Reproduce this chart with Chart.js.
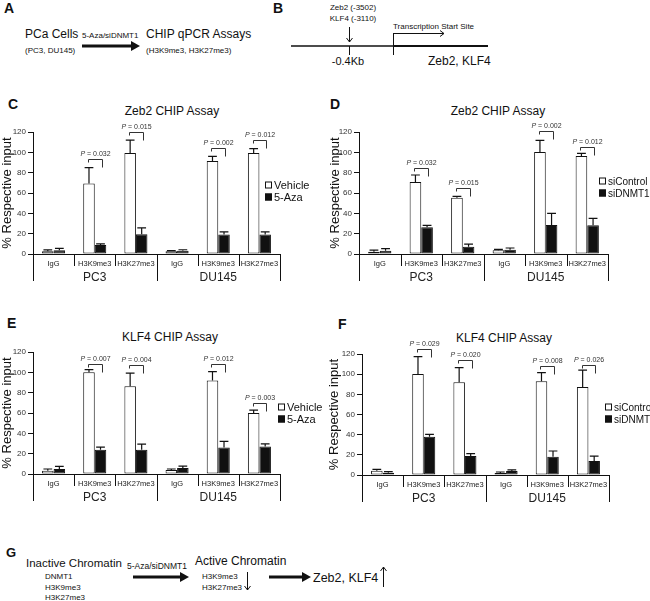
<!DOCTYPE html>
<html>
<head>
<meta charset="utf-8">
<script src="https://cdn.jsdelivr.net/npm/chart.js"></script>
<style>
body{margin:0;background:#fff;width:650px;height:601px;overflow:hidden;position:relative;font-family:"Liberation Sans",Arial,sans-serif}
canvas{position:absolute}
svg{position:absolute;left:0;top:0}
svg text{fill:#111}
</style>
</head>
<body>
<svg width="650" height="601" font-family="Liberation Sans, Arial, sans-serif" fill="#111" stroke="none">
  <!-- A -->
  <text x="4" y="13" font-size="14" font-weight="bold">A</text>
  <text x="25" y="38" font-size="12">PCa Cells</text>
  <text x="25" y="53" font-size="8">(PC3, DU145)</text>
  <text x="82" y="38" font-size="8">5-Aza/siDNMT1</text>
  <line x1="82" y1="46" x2="131" y2="46" stroke="#111" stroke-width="3"/>
  <polygon points="131,41 140,46 131,51"/>
  <text x="146" y="38" font-size="12">CHIP qPCR Assays</text>
  <text x="146" y="53" font-size="8">(H3K9me3, H3K27me3)</text>
  <!-- B -->
  <text x="273" y="13" font-size="14" font-weight="bold">B</text>
  <text x="353" y="10" font-size="8" text-anchor="middle">Zeb2 (-3502)</text>
  <text x="353" y="21" font-size="8" text-anchor="middle">KLF4 (-3110)</text>
  <g stroke="#111" fill="none">
    <line x1="349.5" y1="27" x2="349.5" y2="42"/>
    <polyline points="346.5,38 349.5,42 352.5,38"/>
    <line x1="291" y1="46" x2="393" y2="46" stroke-width="1.4"/>
    <line x1="393" y1="46" x2="488" y2="46" stroke-width="2.2"/>
    <line x1="349.5" y1="46" x2="349.5" y2="55"/>
    <line x1="393.5" y1="33" x2="393.5" y2="55"/>
    <line x1="393" y1="33.5" x2="444" y2="33.5"/>
    <polyline points="440,30.5 444,33.5 440,36.5"/>
  </g>
  <text x="393" y="29" font-size="8">Transcription Start Site</text>
  <text x="348" y="65" font-size="11" text-anchor="middle">-0.4Kb</text>
  <text x="428" y="65" font-size="12">Zeb2, KLF4</text>
  <!-- panel letters and titles -->
  <text x="8" y="109" font-size="14" font-weight="bold">C</text>
  <text x="330" y="109" font-size="14" font-weight="bold">D</text>
  <text x="7" y="328" font-size="14" font-weight="bold">E</text>
  <text x="338" y="329" font-size="14" font-weight="bold">F</text>
  <text x="172" y="115" font-size="12" text-anchor="middle">Zeb2 CHIP Assay</text>
  <text x="498" y="115" font-size="12" text-anchor="middle">Zeb2 CHIP Assay</text>
  <text x="170" y="341" font-size="12" text-anchor="middle">KLF4 CHIP Assay</text>
  <text x="504" y="342" font-size="12" text-anchor="middle">KLF4 CHIP Assay</text>
  <!-- G -->
  <text x="6" y="557" font-size="13" font-weight="bold">G</text>
  <text x="26" y="567" font-size="11.5">Inactive Chromatin</text>
  <text x="45" y="579" font-size="8">DNMT1</text>
  <text x="45" y="590" font-size="8">H3K9me3</text>
  <text x="45" y="600" font-size="8">H3K27me3</text>
  <text x="127" y="569" font-size="8.5">5-Aza/siDNMT1</text>
  <line x1="133" y1="577" x2="180" y2="577" stroke="#111" stroke-width="3"/>
  <polygon points="180,572 189,577 180,582"/>
  <text x="195" y="565" font-size="12">Active Chromatin</text>
  <text x="202" y="579" font-size="8">H3K9me3</text>
  <text x="202" y="590" font-size="8">H3K27me3</text>
  <line x1="269" y1="577" x2="302" y2="577" stroke="#111" stroke-width="3"/>
  <polygon points="302,572 311,577 302,582"/>
  <text x="313" y="582" font-size="12.5">Zeb2, KLF4</text>
  <g stroke="#111" fill="none">
    <line x1="247.5" y1="572" x2="247.5" y2="590"/>
    <polyline points="244.5,586 247.5,590 250.5,586"/>
    <line x1="383.5" y1="587" x2="383.5" y2="567"/>
    <polyline points="380.5,571 383.5,567 386.5,571"/>
  </g>
</svg>
<canvas id="chartC" width="325" height="200" style="left:0;top:90px"></canvas>
<canvas id="chartD" width="325" height="200" style="left:325px;top:90px"></canvas>
<canvas id="chartE" width="325" height="200" style="left:0;top:310px"></canvas>
<canvas id="chartF" width="325" height="200" style="left:325px;top:310px"></canvas>
<script>
// shared categories for every ChIP panel
const categories = ["IgG", "H3K9me3", "H3K27me3", "IgG", "H3K9me3", "H3K27me3"]
const cellLines = ["PC3", "DU145"]

// C: Zeb2, vehicle vs 5-Aza
const zebVehicle = [2.6, 69.4, 99.3, 2.6, 91.5, 99.3]
const zebVehicleErr = [1.4, 15.6, 12.7, 0.7, 4.5, 4.3]
const zebAza = [3.6, 8.8, 19.5, 3.3, 19.2, 19.2]
const zebAzaErr = [1.9, 1.2, 6.2, 0.9, 2.6, 2.6]
const zebAzaP = [null, "0.032", "0.015", null, "0.002", "0.012"]
const zebAzaPLevel = [null, 93, 120, null, 104.5, 112]

// D: Zeb2, siControl vs siDNMT1
const zebSiControl = [2.3, 70.8, 55.4, 3.6, 100.3, 96.4]
const zebSiControlErr = [1.6, 6.9, 1.3, 1.0, 11.5, 2.6]
const zebSiDnmt1 = [3.3, 26.2, 7.2, 4.3, 28.5, 28.2]
const zebSiDnmt1Err = [1.9, 2.0, 2.6, 1.6, 11.5, 6.8]
const zebSiP = [null, "0.032", "0.015", null, "0.002", "0.012"]
const zebSiPLevel = [null, 85, 65, null, 121, 105.6]

// E: KLF4, vehicle vs 5-Aza
const klfVehicle = [3.3, 100, 86.3, 3.9, 91.9, 60]
const klfVehicleErr = [1.6, 2.6, 13, 1.0, 8.7, 2.9]
const klfAza = [4.9, 23.8, 23.8, 5.9, 26, 27]
const klfAzaErr = [2.6, 2.6, 5.5, 1.9, 6, 2.6]
const klfAzaP = [null, "0.007", "0.004", null, "0.012", "0.003"]
const klfAzaPLevel = [null, 108.5, 107.5, null, 108.5, 69.4]

// F: KLF4, siControl vs siDNMT1
const klfSiControl = [4.3, 100.2, 91.9, 2, 92.9, 87.3]
const klfSiControlErr = [1.3, 17.2, 14.5, 1, 8.6, 16.7]
const klfSiDnmt1 = [2.3, 38, 18.8, 4, 18.2, 13.9]
const klfSiDnmt1Err = [1, 2.3, 2.4, 1, 5.6, 4.9]
const klfSiP = [null, "0.029", "0.020", null, "0.008", "0.026"]
const klfSiPLevel = [null, 124.6, 114, null, 108, 109]

const FONT = '"Liberation Sans", Arial, sans-serif'
Chart.defaults.font.family = FONT
Chart.defaults.color = "#222"

//draws error bars, p value brackets, the grouped x axis and the legend
function panelPlugin(spec){
    return {
        id: "panelExtras",
        afterDraw(chart){
            const ctx = chart.ctx
            const area = chart.chartArea
            const xs = chart.scales.x
            const ys = chart.scales.y
            ctx.save()
            ctx.strokeStyle = "#111"
            ctx.lineWidth = 1.2
            chart.data.datasets.forEach((ds, d) => {
                chart.getDatasetMeta(d).data.forEach((bar, i) => {
                    const top = ys.getPixelForValue(ds.data[i] + spec.errors[d][i])
                    const half = bar.width * 0.38
                    ctx.beginPath()
                    ctx.moveTo(bar.x, bar.y)
                    ctx.lineTo(bar.x, top)
                    ctx.moveTo(bar.x - half, top)
                    ctx.lineTo(bar.x + half, top)
                    ctx.stroke()
                })
            })
            // p value brackets
            ctx.lineWidth = 1
            ctx.strokeStyle = "#333"
            spec.pLabels.forEach((p, i) => {
                if(!p) return
                const xl = Math.round(chart.getDatasetMeta(0).data[i].x) - 0.5
                const xr = Math.round(chart.getDatasetMeta(1).data[i].x) + 1.5
                const yb = Math.round(ys.getPixelForValue(spec.pLevels[i])) + 0.5
                ctx.beginPath()
                ctx.moveTo(xl, yb + 3)
                ctx.lineTo(xl, yb)
                ctx.lineTo(xr, yb)
                ctx.lineTo(xr, yb + 8)
                ctx.stroke()
                const rest = " = " + p
                ctx.font = "italic 7px " + FONT
                const w1 = ctx.measureText("P").width
                ctx.font = "7px " + FONT
                const w2 = ctx.measureText(rest).width
                const tx = (xl + xr) / 2 - (w1 + w2) / 2
                ctx.fillStyle = "#333"
                ctx.textAlign = "left"
                ctx.textBaseline = "alphabetic"
                ctx.font = "italic 7px " + FONT
                ctx.fillText("P", tx, yb - 4)
                ctx.font = "7px " + FONT
                ctx.fillText(rest, tx + w1, yb - 4)
            })
            // x axis with category cells and cell line groups
            const n = categories.length
            const per = n / cellLines.length
            const w = (area.right - area.left) / n
            const b = area.bottom
            ctx.strokeStyle = "#111"
            ctx.beginPath()
            ctx.moveTo(area.left, b + 0.5)
            ctx.lineTo(area.right, b + 0.5)
            ctx.moveTo(area.left + 0.5, b)
            ctx.lineTo(area.left + 0.5, b + 27)
            for(let k = 1; k <= n; k++){
                const xx = Math.round(area.left + k * w) + 0.5
                ctx.moveTo(xx, b)
                ctx.lineTo(xx, b + (k % per === 0 ? 27 : 12))
            }
            ctx.stroke()
            ctx.fillStyle = "#222"
            ctx.textAlign = "center"
            ctx.font = "7.5px " + FONT
            categories.forEach((c, i) => ctx.fillText(c, xs.getPixelForValue(i), b + 12))
            ctx.font = "12px " + FONT
            cellLines.forEach((g, j) => ctx.fillText(g, area.left + (j * per + per / 2) * w, b + 27))
            // legend
            ctx.textAlign = "left"
            ctx.font = spec.legendSize + "px " + FONT
            chart.data.datasets.forEach((ds, d) => {
                const lx = spec.legend[0]
                const ly = spec.legend[1] + d * 12
                ctx.fillStyle = ds.backgroundColor
                ctx.fillRect(lx, ly - 3.5, 7, 7)
                ctx.strokeRect(lx + 0.5, ly - 3, 6, 6)
                ctx.fillStyle = "#111"
                ctx.fillText(ds.label, lx + 9, ly + 4)
            })
            ctx.restore()
        }
    }
}

function makePanel(id, spec){
    const canvas = document.getElementById(id)
    return new Chart(canvas, {
        type: "bar",
        data: {
            labels: categories,
            datasets: [
                {label: spec.names[0], data: spec.white, backgroundColor: "#fff", borderColor: "#111", borderWidth: 1, borderSkipped: false, categoryPercentage: 0.56, barPercentage: 1},
                {label: spec.names[1], data: spec.black, backgroundColor: "#111", borderColor: "#111", borderWidth: 1, borderSkipped: false, categoryPercentage: 0.56, barPercentage: 1}
            ]
        },
        options: {
            responsive: false,
            animation: false,
            layout: {padding: {left: 0, top: spec.area[1], right: canvas.width - spec.area[2], bottom: canvas.height - spec.area[3]}},
            plugins: {legend: {display: false}, tooltip: {enabled: false}},
            scales: {
                x: {display: false},
                y: {
                    min: 0,
                    max: 120,
                    ticks: {stepSize: 20, font: {size: 8}, color: "#333", padding: 2},
                    grid: {drawOnChartArea: false, drawTicks: true, tickLength: 5, color: "#111"},
                    border: {display: true, color: "#111", width: 1},
                    title: {display: true, text: "% Respective input", font: {size: 13}, color: "#111", padding: {top: spec.titlePad, bottom: 0}},
                    afterFit(scale){ scale.width = spec.area[0] }
                }
            }
        },
        plugins: [panelPlugin(spec)]
    })
}

makePanel("chartC", {
    names: ["Vehicle", "5-Aza"], white: zebVehicle, black: zebAza,
    errors: [zebVehicleErr, zebAzaErr], pLabels: zebAzaP, pLevels: zebAzaPLevel,
    area: [33, 42, 280, 164], legend: [265, 95], legendSize: 11, titlePad: 0
})
makePanel("chartD", {
    names: ["siControl", "siDNMT1"], white: zebSiControl, black: zebSiDnmt1,
    errors: [zebSiControlErr, zebSiDnmt1Err], pLabels: zebSiP, pLevels: zebSiPLevel,
    area: [34, 42, 283, 164], legend: [274, 91], legendSize: 10, titlePad: 3
})
makePanel("chartE", {
    names: ["Vehicle", "5-Aza"], white: klfVehicle, black: klfAza,
    errors: [klfVehicleErr, klfAzaErr], pLabels: klfAzaP, pLevels: klfAzaPLevel,
    area: [33, 42, 280, 164], legend: [278, 97], legendSize: 11, titlePad: 0
})
makePanel("chartF", {
    names: ["siControl", "siDNMT1"], white: klfSiControl, black: klfSiDnmt1,
    errors: [klfSiControlErr, klfSiDnmt1Err], pLabels: klfSiP, pLevels: klfSiPLevel,
    area: [37, 44, 284, 165], legend: [280, 97], legendSize: 10, titlePad: 2
})
</script>
</body>
</html>
